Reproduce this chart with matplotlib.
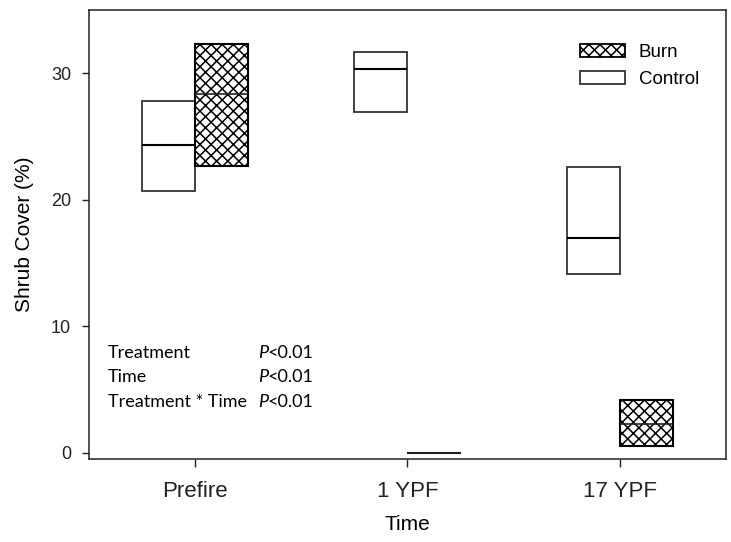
import matplotlib
matplotlib.use("Agg")
import matplotlib.pyplot as plt
from matplotlib.patches import Patch

times = ["Prefire", "1 YPF", "17 YPF"]
# range boxes: low, median, high (shrub cover %)
ctrl_low = [20.7, 26.9, 14.1]
ctrl_med = [24.3, 30.3, 17.0]
ctrl_high = [27.8, 31.7, 22.6]
burn_low = [22.7, 0.0, 0.55]
burn_med = [28.4, 0.0, 2.3]
burn_high = [32.3, 0.0, 4.2]

stats_lbl = ["Treatment", "Time", "Treatment * Time"]
stats_p = ["<0.01", "<0.01", "<0.01"]

plt.rcParams["font.family"] = ["Liberation Sans", "DejaVu Sans"]
plt.rcParams["hatch.linewidth"] = 1.1

fig = plt.figure(figsize=(7.31, 5.42), dpi=100)
ax = fig.add_axes([0.1218, 0.153, 0.8712, 0.8285])

w = 0.25
xs = range(len(times))
ax.bar([x - w for x in xs], [h - l for h, l in zip(ctrl_high, ctrl_low)],
       bottom=ctrl_low, width=w, align="edge", facecolor="white",
       edgecolor="#333333", linewidth=1.3)
ax.bar(list(xs), [h - l for h, l in zip(burn_high, burn_low)],
       bottom=burn_low, width=w, align="edge", facecolor="white",
       edgecolor="black", linewidth=1.5, hatch="xxx")
ax.hlines(ctrl_med, [x - w for x in xs], [x for x in xs], color="black", lw=1.5)
ax.hlines(burn_med, list(xs), [x + w for x in xs], color="#222222", lw=1.2)

ax.set_xlim(-0.5, 2.5)
ax.set_ylim(-0.5, 35)
ax.set_xticks(list(xs))
ax.set_xticklabels(times, fontsize=16)
ax.set_yticks([0, 10, 20, 30])
ax.tick_params(axis="y", labelsize=13, length=5, pad=8, direction="out", width=1, colors="#222222")
ax.tick_params(axis="x", length=6, direction="out", width=1, pad=10, colors="#222222")
for s in ax.spines.values():
    s.set_color("#222222")
    s.set_linewidth(1.1)

ax.set_xlabel("Time", fontsize=15, labelpad=9)
ax.set_ylabel("Shrub Cover (%)", fontsize=15, labelpad=12)

lato = ["Lato", "DejaVu Sans"]
for i, (lbl, p) in enumerate(zip(stats_lbl, stats_p)):
    yy = 7.9 - 1.95 * i
    ax.text(-0.41, yy, lbl, fontsize=13, family=lato, va="center")
    ax.text(0.295, yy, "P", fontsize=13, family=lato, style="italic", va="center")
    ax.annotate(p, (0.295, yy), xytext=(7, 0), textcoords="offset points",
                fontsize=13, family=lato, va="center")

handles = [Patch(facecolor="white", edgecolor="black", hatch="xxx", lw=1.3),
           Patch(facecolor="white", edgecolor="#333333", lw=1.3)]
ax.legend(handles, ["Burn", "Control"], loc="upper right", frameon=False,
          fontsize=13.5, handlelength=2.4, handleheight=0.65,
          bbox_to_anchor=(0.984, 0.962), handletextpad=0.7, labelspacing=0.55)

fig.savefig("out.png", dpi=100)
